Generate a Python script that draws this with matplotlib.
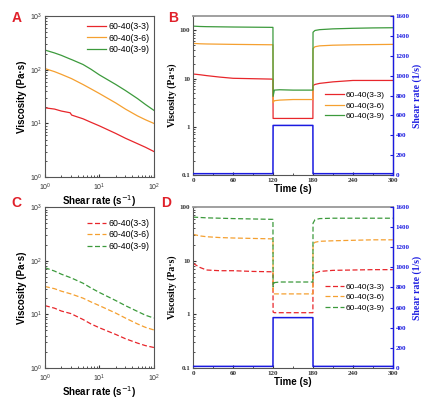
import matplotlib
matplotlib.use("Agg")
import matplotlib.pyplot as plt
from matplotlib.ticker import LogLocator, FixedLocator, FixedFormatter, MultipleLocator, NullFormatter
import numpy as np

# ---------------- data ----------------
labels = ["60-40(3-3)", "60-40(3-6)", "60-40(3-9)"]
colors = ["#e8262b", "#f5a030", "#3c9a3c"]
blue = "#1a1ae0"

# Panel A: steady shear viscosity (solid)
rate_A = [1, 1.5, 2, 2.9, 3.1, 5, 7, 10, 20, 30, 50, 70, 100]
visc_A_33 = [19.5, 18.5, 17.0, 15.8, 14.3, 12.2, 10.5, 9.0, 6.5, 5.3, 4.2, 3.6, 3.0]
visc_A_36 = [105, 92, 82, 70, 68, 53, 44, 36, 24, 18.5, 13.8, 11.7, 10.0]
visc_A_39 = [232, 205, 185, 158, 154, 125, 102, 80, 53, 41, 29, 22.5, 17.5]

# Panel C: steady shear viscosity (dashed)
rate_C = [1, 1.5, 2, 3, 5, 7, 10, 20, 30, 50, 70, 100]
visc_C_33 = [14.5, 13.0, 11.5, 10.3, 8.0, 6.6, 5.6, 4.2, 3.5, 2.9, 2.6, 2.4]
visc_C_36 = [33, 30, 27, 24, 20, 17, 14.5, 10.5, 8.5, 6.6, 5.7, 5.1]
visc_C_39 = [74, 64, 56, 48, 38, 31, 25.5, 18, 14.5, 11.3, 9.6, 8.5]

# Panels B and D: three-interval thixotropy test
time_s = [0, 10, 20, 40, 60, 90, 119.9, 120.1, 122, 130, 150, 179.9, 180.1, 183, 190, 210, 240, 270, 300]
visc_B_33 = [12.5, 12.1, 11.6, 10.8, 10.2, 10.0, 9.8, 1.5, 1.5, 1.5, 1.5, 1.5, 7.2, 7.6, 8.0, 8.6, 9.2, 9.2, 9.2]
visc_B_36 = [54, 53, 52.5, 52, 51.5, 51, 50.5, 3.2, 3.5, 3.6, 3.7, 3.7, 42, 46, 48, 49.5, 50.5, 51, 51.5]
visc_B_39 = [123, 121, 120, 119, 118, 117, 116, 4.3, 5.8, 5.9, 5.8, 5.8, 92, 100, 104, 108, 111, 113, 114]

visc_D_33 = [8.9, 7.5, 6.7, 6.5, 6.5, 6.3, 6.2, 1.1, 1.07, 1.07, 1.07, 1.07, 5.4, 5.9, 6.3, 6.6, 6.7, 6.8, 6.8]
visc_D_36 = [31, 29, 28, 27, 26.5, 26, 25.5, 2.6, 2.4, 2.4, 2.4, 2.4, 20.5, 22, 23, 23.5, 24, 24.5, 24.5]
visc_D_39 = [65, 64, 63, 62, 61, 60, 59, 3.3, 3.9, 4.0, 4.0, 4.0, 50, 58, 61, 62, 62, 62, 62]

time_rate = [0, 119.9, 120.1, 179.9, 180.1, 300]
shear_rate = [15, 15, 500, 500, 15, 15]

# ---------------- figure ----------------
fig = plt.figure(figsize=(4.36, 3.99), dpi=100)
SANS = ["Liberation Sans", "DejaVu Sans"]
SERIF = ["Liberation Serif", "DejaVu Serif"]
spine_col = "#555555"
dash = (0, (4, 2))

def style_spines(ax):
    for s in ax.spines.values():
        s.set_color(spine_col)
        s.set_linewidth(0.8)

def rate_panel(rect, x, ys, ls, leg_anchor):
    ax = fig.add_axes(rect)
    for y, c, lab in zip(ys, colors, labels):
        ax.plot(x, y, color=c, lw=0.9, ls=ls, label=lab)
    ax.set_xscale("log"); ax.set_yscale("log")
    ax.set_xlim(1, 100); ax.set_ylim(1, 1000)
    ax.tick_params(which="both", direction="in", labelsize=5, colors="#333333", pad=2)
    ax.tick_params(axis="x", pad=3.5)
    ax.tick_params(which="major", length=2.5)
    ax.tick_params(which="minor", length=1.3)
    for t in ax.get_xticklabels() + ax.get_yticklabels():
        t.set_fontfamily(SANS)
    ax.set_xlabel("Shear rate (s$^{-1}$)", fontsize=7, fontweight="bold", family=SANS, labelpad=0)
    ax.set_ylabel("Viscosity (Pa·s)", fontsize=7, fontweight="bold", family=SANS, labelpad=2)
    style_spines(ax)
    ax.legend(loc="upper right", bbox_to_anchor=leg_anchor, frameon=False, handlelength=2.2,
              handletextpad=0.2, labelspacing=0.3, borderaxespad=0.0,
              prop={"family": SANS, "size": 6.3})
    return ax

def time_panel(rect, ys, ls, leg_anchor):
    ax = fig.add_axes(rect)
    for y, c, lab in zip(ys, colors, labels):
        ax.plot(time_s, y, color=c, lw=0.9, ls=ls, label=lab)
    ax.set_yscale("log")
    ax.set_xlim(0, 300)
    ax.xaxis.set_major_locator(FixedLocator([0, 60, 120, 180, 240, 300]))
    ax.xaxis.set_minor_locator(MultipleLocator(30))
    ax.yaxis.set_major_locator(FixedLocator([0.1, 1, 10, 100]))
    ax.yaxis.set_major_formatter(FixedFormatter(["0.1", "1", "10", "100"]))
    ax.yaxis.set_minor_locator(LogLocator(base=10, subs=np.arange(2, 10) * 1.0))
    ax.yaxis.set_minor_formatter(NullFormatter())
    ax.tick_params(which="both", direction="in", labelsize=5, colors="#333333", pad=2)
    ax.tick_params(which="major", length=2.5)
    ax.tick_params(which="minor", length=1.3)
    for t in ax.get_xticklabels() + ax.get_yticklabels():
        t.set_fontfamily(SERIF); t.set_fontweight("bold")
    ax.set_xlabel("Time (s)", fontsize=7, fontweight="bold", family=SANS, labelpad=1)
    ax.set_ylabel("Viscosity (Pa·s)", fontsize=7, fontweight="bold", family=SERIF, labelpad=2)
    style_spines(ax)
    ax.spines["top"].set_color("#999999"); ax.spines["top"].set_linewidth(1.3)
    ax2 = ax.twinx()
    ax2.plot(time_rate, shear_rate, color=blue, lw=1.1)
    ax2.set_ylim(0, 1600)
    ax2.yaxis.set_major_locator(MultipleLocator(200))
    ax2.tick_params(axis="y", direction="in", labelsize=5, colors=blue, length=2.5, pad=2)
    for t in ax2.get_yticklabels():
        t.set_fontfamily(SERIF); t.set_fontweight("bold")
    ax2.set_ylabel("Shear rate (1/s)", fontsize=7, fontweight="bold", family=SERIF, color=blue, labelpad=2)
    for s in ax2.spines.values():
        s.set_visible(False)
    ax2.spines["right"].set_visible(True)
    ax2.spines["right"].set_color(blue); ax2.spines["right"].set_linewidth(1.0)
    ax.legend(loc="upper left", bbox_to_anchor=leg_anchor, frameon=False, borderaxespad=0.0,
              handlelength=2.3, handletextpad=0.2, labelspacing=0.35,
              prop={"family": SANS, "size": 6.0})
    return ax, ax2

axA = rate_panel([0.103, 0.556, 0.250, 0.404], rate_A, [visc_A_33, visc_A_36, visc_A_39], "-", (0.99, 0.985))
axC = rate_panel([0.103, 0.078, 0.250, 0.403], rate_C, [visc_C_33, visc_C_36, visc_C_39], dash, (0.99, 0.95))

axB, axB2 = time_panel([0.443, 0.561, 0.458, 0.399], [visc_B_33, visc_B_36, visc_B_39], "-", (0.645, 0.55))
axB.set_ylim(0.1, 200)
axD, axD2 = time_panel([0.443, 0.078, 0.458, 0.403], [visc_D_33, visc_D_36, visc_D_39], dash, (0.645, 0.55))
axD.set_ylim(0.1, 100)

for lab, x, y in [("A", 0.027, 0.972), ("B", 0.385, 0.972), ("C", 0.027, 0.508), ("D", 0.37, 0.508)]:
    fig.text(x, y, lab, color="#e0202a", fontsize=10, fontweight="bold", family=SANS, va="top")

fig.savefig("out.png", dpi=100)
